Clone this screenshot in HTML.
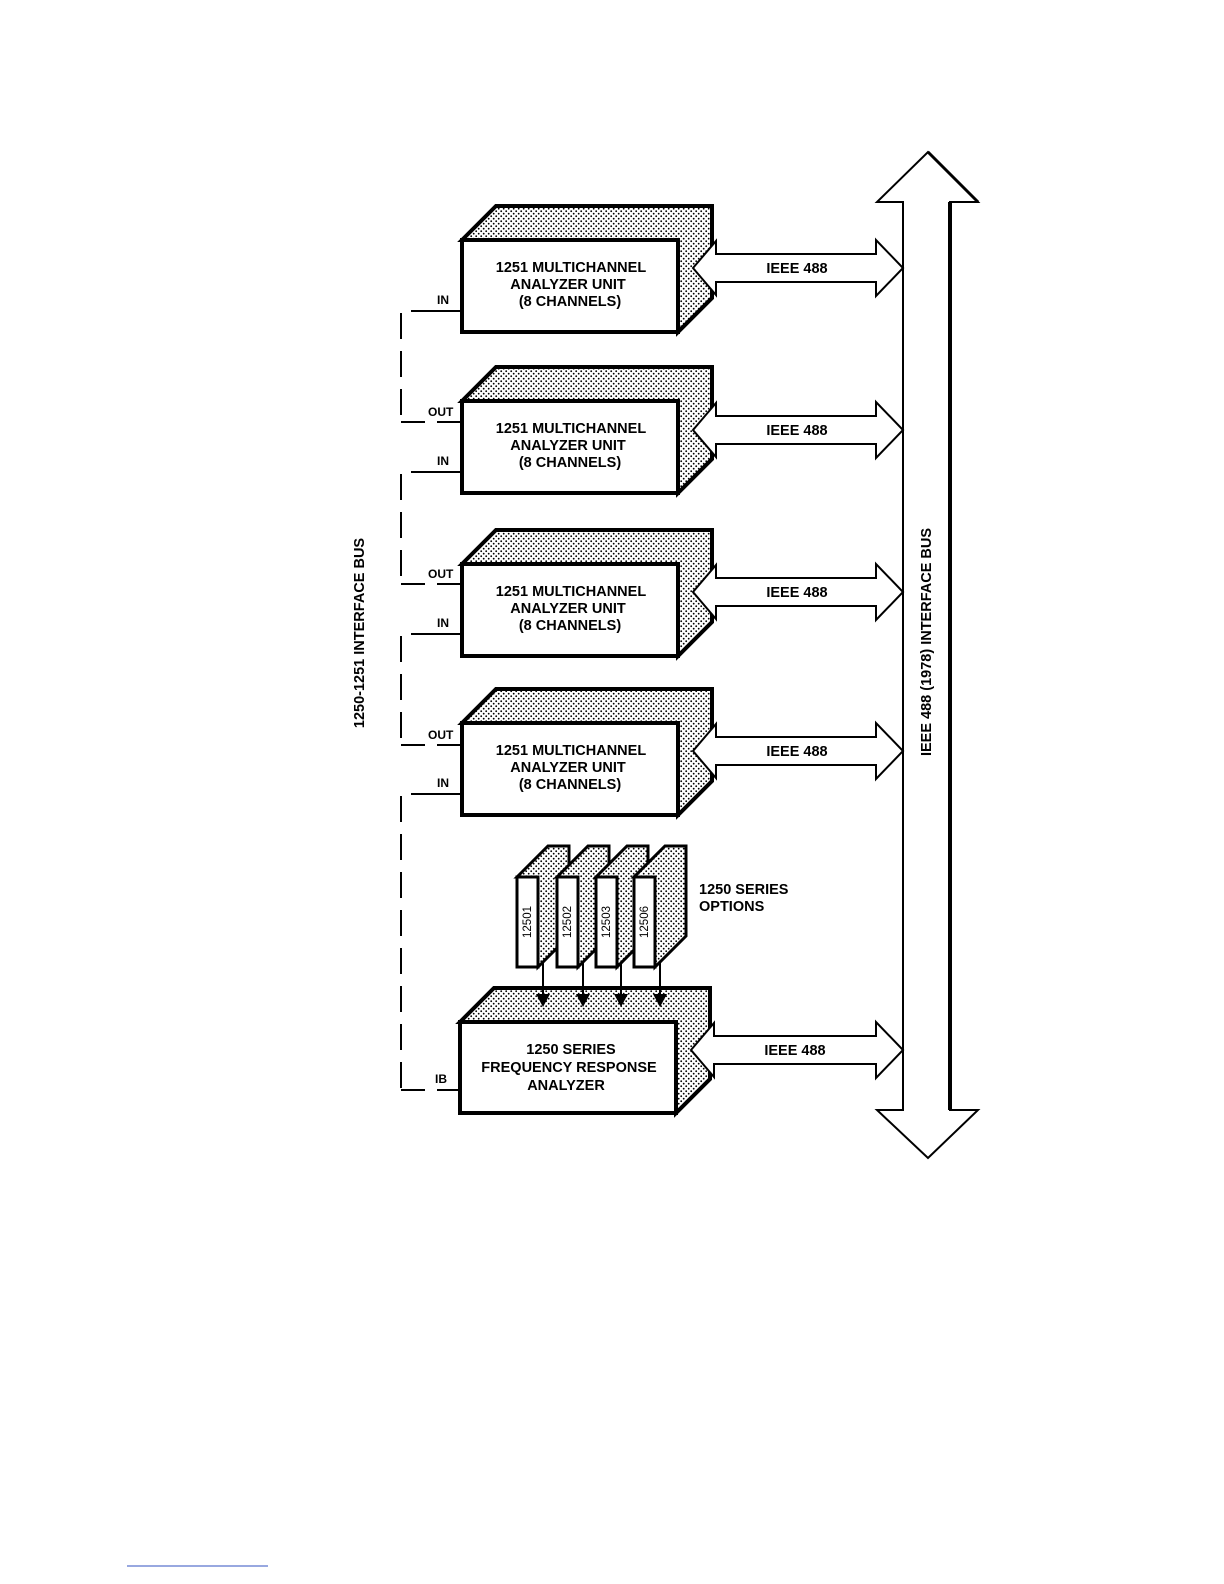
<!DOCTYPE html>
<html><head><meta charset="utf-8"><style>
html,body{margin:0;padding:0;background:#fff}
svg{display:block}
text{font-family:"Liberation Sans",Arial,sans-serif;font-weight:bold;fill:#000}
</style></head><body>
<svg width="1224" height="1584" viewBox="0 0 1224 1584" xmlns="http://www.w3.org/2000/svg">
<defs>
<pattern id="dots" width="5" height="5" patternUnits="userSpaceOnUse">
<rect width="5" height="5" fill="#fff"/>
<circle cx="1.2" cy="1.2" r="0.9" fill="#000"/>
<circle cx="3.7" cy="3.7" r="0.9" fill="#000"/>
</pattern>
</defs>

<path d="M903,1110 L903,202 L877,202 L928,152 L978,202 L950,202 L950,1110 L978,1110 L928,1158 L877,1110 Z" fill="#fff" stroke="#000" stroke-width="2"/>
<line x1="950" y1="202" x2="950" y2="1110" stroke="#000" stroke-width="4"/>
<line x1="928" y1="152" x2="978" y2="202" stroke="#000" stroke-width="3"/>
<text transform="translate(931,642) rotate(-90)" text-anchor="middle" font-size="14.5">IEEE 488 (1978) INTERFACE BUS</text>
<text transform="translate(364,633) rotate(-90)" text-anchor="middle" font-size="14.5">1250-1251 INTERFACE BUS</text>

<g stroke="#000" stroke-width="2" fill="none" stroke-dasharray="26,12">
<path d="M437,311 L401,311 L401,422"/>
<path d="M437,472 L401,472 L401,584"/>
<path d="M437,634 L401,634 L401,745"/>
<path d="M437,794 L401,794 L401,1090"/>
</g>
<g stroke="#000" stroke-width="2">
<line x1="401" y1="422" x2="425" y2="422"/>
<line x1="401" y1="584" x2="425" y2="584"/>
<line x1="401" y1="745" x2="425" y2="745"/>
<line x1="401" y1="1090" x2="425" y2="1090"/>
<line x1="437" y1="311" x2="462" y2="311"/>
<line x1="437" y1="422" x2="462" y2="422"/>
<line x1="437" y1="472" x2="462" y2="472"/>
<line x1="437" y1="584" x2="462" y2="584"/>
<line x1="437" y1="634" x2="462" y2="634"/>
<line x1="437" y1="745" x2="462" y2="745"/>
<line x1="437" y1="794" x2="462" y2="794"/>
<line x1="437" y1="1090" x2="460" y2="1090"/>
</g>
<g font-size="12">
<text x="437" y="304">IN</text>
<text x="428" y="416">OUT</text>
<text x="437" y="465">IN</text>
<text x="428" y="578">OUT</text>
<text x="437" y="627">IN</text>
<text x="428" y="739">OUT</text>
<text x="437" y="787">IN</text>
<text x="435" y="1083">IB</text>
</g>

<g stroke="#000" stroke-width="4" stroke-linejoin="miter">
<path d="M462,240 L496,206 L712,206 L712,298 L678,332 L678,240 Z" fill="url(#dots)"/>
<rect x="462" y="240" width="216" height="92" fill="#fff"/>
<path d="M462,401 L496,367 L712,367 L712,459 L678,493 L678,401 Z" fill="url(#dots)"/>
<rect x="462" y="401" width="216" height="92" fill="#fff"/>
<path d="M462,564 L496,530 L712,530 L712,622 L678,656 L678,564 Z" fill="url(#dots)"/>
<rect x="462" y="564" width="216" height="92" fill="#fff"/>
<path d="M462,723 L496,689 L712,689 L712,781 L678,815 L678,723 Z" fill="url(#dots)"/>
<rect x="462" y="723" width="216" height="92" fill="#fff"/>
<path d="M460,1022 L494,988 L710,988 L710,1079 L676,1113 L676,1022 Z" fill="url(#dots)"/>
<rect x="460" y="1022" width="216" height="91" fill="#fff"/>
</g>
<g font-size="14.5" text-anchor="middle">
<text x="571" y="272">1251 MULTICHANNEL</text><text x="568" y="289">ANALYZER UNIT</text><text x="570" y="306">(8 CHANNELS)</text>
<text x="571" y="433">1251 MULTICHANNEL</text><text x="568" y="450">ANALYZER UNIT</text><text x="570" y="467">(8 CHANNELS)</text>
<text x="571" y="596">1251 MULTICHANNEL</text><text x="568" y="613">ANALYZER UNIT</text><text x="570" y="630">(8 CHANNELS)</text>
<text x="571" y="755">1251 MULTICHANNEL</text><text x="568" y="772">ANALYZER UNIT</text><text x="570" y="789">(8 CHANNELS)</text>
<text x="571" y="1054">1250 SERIES</text><text x="569" y="1072">FREQUENCY RESPONSE</text><text x="566" y="1090">ANALYZER</text>
</g>

<g fill="#fff" stroke="#000" stroke-width="2">
<path d="M693,268 L716,241 L716,254 L876,254 L876,240 L903,268 L876,296 L876,282 L716,282 L716,295 Z"/>
<path d="M693,430 L716,403 L716,416 L876,416 L876,402 L903,430 L876,458 L876,444 L716,444 L716,457 Z"/>
<path d="M693,592 L716,565 L716,578 L876,578 L876,564 L903,592 L876,620 L876,606 L716,606 L716,619 Z"/>
<path d="M693,751 L716,724 L716,737 L876,737 L876,723 L903,751 L876,779 L876,765 L716,765 L716,778 Z"/>
<path d="M691,1050 L714,1023 L714,1036 L876,1036 L876,1022 L903,1050 L876,1078 L876,1064 L714,1064 L714,1077 Z"/>
</g>
<g font-size="14.5" text-anchor="middle">
<text x="797" y="273">IEEE 488</text>
<text x="797" y="435">IEEE 488</text>
<text x="797" y="597">IEEE 488</text>
<text x="797" y="756">IEEE 488</text>
<text x="795" y="1055">IEEE 488</text>
</g>

<g stroke="#000" stroke-width="3">
<path d="M517,877 L548,846 L569,846 L569,936 L538,967 L538,877 Z" fill="url(#dots)"/>
<rect x="517" y="877" width="21" height="90" fill="#fff"/>
<path d="M557,877 L588,846 L609,846 L609,936 L578,967 L578,877 Z" fill="url(#dots)"/>
<rect x="557" y="877" width="21" height="90" fill="#fff"/>
<path d="M596,877 L627,846 L648,846 L648,936 L617,967 L617,877 Z" fill="url(#dots)"/>
<rect x="596" y="877" width="21" height="90" fill="#fff"/>
<path d="M634,877 L665,846 L686,846 L686,936 L655,967 L655,877 Z" fill="url(#dots)"/>
<rect x="634" y="877" width="21" height="90" fill="#fff"/>
</g>
<g font-size="11.5" text-anchor="middle">
<text transform="translate(531,922) rotate(-90)" style="font-weight:normal">12501</text>
<text transform="translate(571,922) rotate(-90)" style="font-weight:normal">12502</text>
<text transform="translate(610,922) rotate(-90)" style="font-weight:normal">12503</text>
<text transform="translate(648,922) rotate(-90)" style="font-weight:normal">12506</text>
</g>
<g stroke="#000" stroke-width="2">
<line x1="543" y1="962" x2="543" y2="996"/>
<line x1="583" y1="962" x2="583" y2="996"/>
<line x1="621" y1="962" x2="621" y2="996"/>
<line x1="660" y1="962" x2="660" y2="996"/>
</g>
<g fill="#000">
<path d="M536,994 L550,994 L543,1007 Z"/>
<path d="M576,994 L590,994 L583,1007 Z"/>
<path d="M614,994 L628,994 L621,1007 Z"/>
<path d="M653,994 L667,994 L660,1007 Z"/>
</g>
<text x="699" y="894" font-size="14.5">1250 SERIES</text>
<text x="699" y="911" font-size="14.5">OPTIONS</text>

<line x1="127" y1="1566" x2="268" y2="1566" stroke="#3050c0" stroke-width="1"/>
</svg>
</body></html>
